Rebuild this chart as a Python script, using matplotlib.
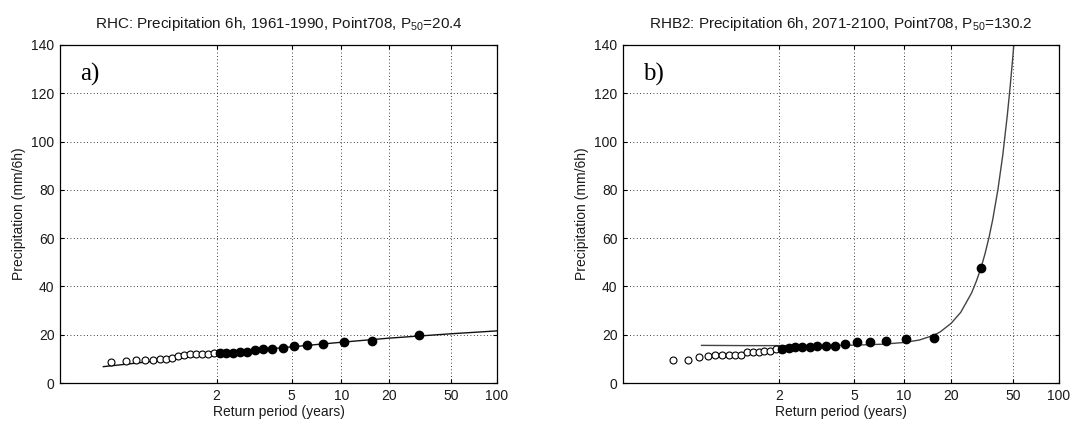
import numpy as np
import matplotlib
matplotlib.use("Agg")
import matplotlib.pyplot as plt

plt.rcParams['font.family'] = ['Liberation Sans', 'DejaVu Sans']
plt.rcParams['mathtext.default'] = 'regular'

# return periods of the 30 annual maxima (ascending order)
ret_period = [1.033, 1.069, 1.107, 1.148, 1.192, 1.24, 1.292, 1.348, 1.409, 1.476,
              1.55, 1.632, 1.722, 1.824, 1.938, 2.067, 2.214, 2.385, 2.583, 2.818,
              3.1, 3.444, 3.875, 4.429, 5.167, 6.2, 7.75, 10.333, 15.5, 31.0]

# panel a) RHC 1961-1990
precip_a = [8.7, 9.1, 9.4, 9.5, 9.7, 9.8, 10.1, 10.5, 11.0, 11.6,
            12.0, 12.1, 12.1, 12.1, 12.3, 12.3, 12.4, 12.6, 12.8, 13.0,
            13.5, 13.9, 14.2, 14.7, 15.2, 15.7, 16.1, 16.9, 17.4, 19.9]
fit_T_a = [1.022, 1.07, 1.24, 1.58, 2, 3.25, 5, 10, 20, 50, 100]
fit_P_a = [6.8, 7.8, 9.3, 10.9, 12.0, 13.7, 15.0, 16.9, 18.6, 20.4, 21.6]

# panel b) RHB2 2071-2100
precip_b = [9.6, 9.6, 10.8, 11.4, 11.6, 11.7, 11.8, 11.8, 11.8, 12.8,
            12.8, 13.0, 13.1, 13.3, 14.1, 14.3, 14.5, 14.8, 14.9, 14.9,
            15.4, 15.4, 15.4, 16.3, 16.9, 17.0, 17.5, 18.3, 18.8, 47.5]
fit_T_b = [1.118, 1.5, 2, 3, 5, 7.5, 10, 12.5, 15.5, 17, 20, 23, 27, 29, 31,
           33, 35, 37, 40, 43, 46, 48, 50, 51.5]
fit_P_b = [15.6, 15.5, 15.5, 15.5, 15.7, 16.1, 16.8, 17.8, 19.8, 21.2, 24.8, 29.3,
           37.3, 42.2, 47.5, 53.6, 60.3, 67.7, 80.2, 94.4, 110.8, 122.6, 135.2, 145.4]

xticks = [2, 5, 10, 20, 50, 100]
titles = ['RHC: Precipitation 6h, 1961-1990, Point708, P$_{50}$=20.4',
          'RHB2: Precipitation 6h, 2071-2100, Point708, P$_{50}$=130.2']
tags = ['a)', 'b)']


# Gumbel reduced variate axis
def gumbel(T):
    T = np.clip(np.asarray(T, dtype=float), 1 + 1e-9, None)
    return -np.log(-np.log(1 - 1 / T))


def gumbel_inv(y):
    y = np.asarray(y, dtype=float)
    return 1 / (1 - np.exp(-np.exp(-y)))


fig = plt.figure(figsize=(10.75, 4.28), dpi=100)
ax1 = fig.add_axes([0.0558, 0.105, 0.4065, 0.790])
ax2 = fig.add_axes([0.5795, 0.105, 0.4056, 0.790])

T = np.array(ret_period)
for ax, P, fT, fP, title, tag, lc in [(ax1, precip_a, fit_T_a, fit_P_a, titles[0], tags[0], '#111111'),
                                      (ax2, precip_b, fit_T_b, fit_P_b, titles[1], tags[1], '#444444')]:
    P = np.array(P)
    ax.set_xscale('function', functions=(gumbel, gumbel_inv))
    ax.plot(fT, fP, color=lc, lw=1.0, zorder=2)
    lo = T < 2
    ax.plot(T[lo], P[lo], 'o', mfc='white', mec='black', ms=5, mew=0.8, zorder=3)
    ax.plot(T[~lo], P[~lo], 'o', mfc='black', mec='black', ms=6, zorder=3)
    ax.set_xlim(1.00062, 100)
    ax.set_ylim(0, 140)
    ax.set_xticks(xticks)
    ax.set_xticklabels([str(t) for t in xticks])
    ax.xaxis.set_minor_locator(matplotlib.ticker.NullLocator())
    ax.set_yticks(range(0, 141, 20))
    ax.grid(True, color='black', linestyle=(0, (1, 3)), linewidth=0.6)
    ax.tick_params(direction='in', length=3, labelsize=10, top=True, right=True, pad=4,
                   labelcolor='#1a1a1a')
    ax.set_xlabel('Return period (years)', fontsize=10, labelpad=2, color='#1a1a1a')
    ax.set_ylabel('Precipitation (mm/6h)', fontsize=10, labelpad=4, color='#1a1a1a')
    ax.set_title(title, fontsize=11, pad=12, color='#1a1a1a')
    ax.text(0.046, 0.895, tag, transform=ax.transAxes, family='Liberation Serif',
            fontsize=18, va='baseline')
    for s in ax.spines.values():
        s.set_linewidth(0.9)

fig.savefig('out.png', dpi=100)
